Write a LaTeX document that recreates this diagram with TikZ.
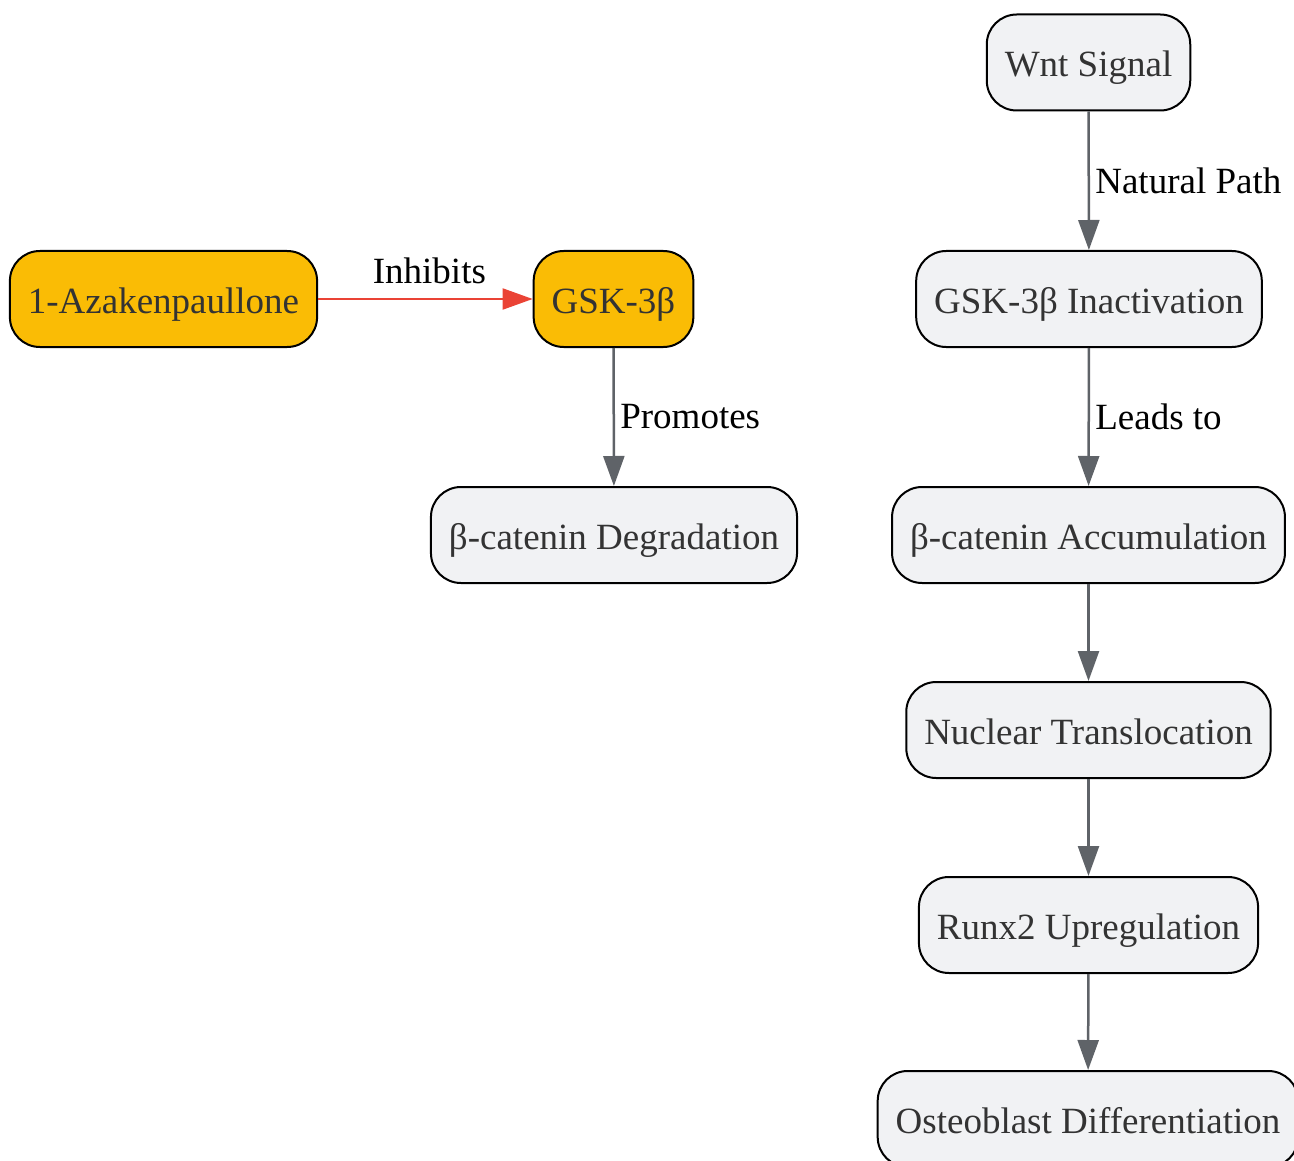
\documentclass[tikz,border=0pt]{standalone}
\usepackage{fontspec}
\setmainfont{Liberation Serif}
\usetikzlibrary{arrows.meta,positioning}

\definecolor{drugfill}{HTML}{FABC05}
\definecolor{stepfill}{HTML}{F1F2F4}
\definecolor{edgegray}{HTML}{5F6368}
\definecolor{inhibred}{HTML}{EA4335}
\definecolor{nodetext}{HTML}{333333}

\tikzset{
	box/.style={draw=black, line width=2pt, rounded corners=30pt, minimum height=96pt,
		inner xsep=18pt, text height=36pt, text depth=7pt,
		text=nodetext, font=\fontsize{37}{40}\selectfont},
	drug/.style={box, fill=drugfill},
	stepbox/.style={box, fill=stepfill},
	flow/.style={draw=edgegray, line width=2.5pt, -{Triangle[length=30pt,width=21pt]}},
	inhib/.style={draw=inhibred, line width=2pt, -{Triangle[length=30pt,width=21pt]}},
	lbl/.style={font=\fontsize{37}{40}\selectfont, text=black}
}

\begin{document}
\begin{tikzpicture}[x=1pt,y=-1pt]
\useasboundingbox (0,0) rectangle (1294,1161);

% left branch
\node[drug] (aza) at (163.5,299) {1-Azakenpaullone};
\node[drug] (gsk) at (613.5,299) {GSK-3β};
\node[stepbox] (degr) at (614,535) {β-catenin Degradation};

% right branch
\node[stepbox] (wnt) at (1088.5,62.5) {Wnt Signal};
\node[stepbox] (inact) at (1089,299) {GSK-3β Inactivation};
\node[stepbox] (accum) at (1088.5,535) {β-catenin Accumulation};
\node[stepbox] (nucl) at (1088.5,730) {Nuclear Translocation};
\node[stepbox] (runx) at (1088.5,925) {Runx2 Upregulation};
\node[stepbox] (osteo) at (1088,1119) {Osteoblast Differentiation};

\draw[inhib] (aza) -- node[lbl, above=11pt, xshift=4pt] {Inhibits} (gsk);
\draw[flow] (gsk) -- node[lbl, right=2pt] {Promotes} (degr);

\draw[flow] (wnt) -- node[lbl, right=2pt] {Natural Path} (inact);
\draw[flow] (inact) -- node[lbl, right=2pt] {Leads to} (accum);
\draw[flow] (accum) -- (nucl);
\draw[flow] (nucl) -- (runx);
\draw[flow] (runx) -- (osteo);

\end{tikzpicture}
\end{document}
